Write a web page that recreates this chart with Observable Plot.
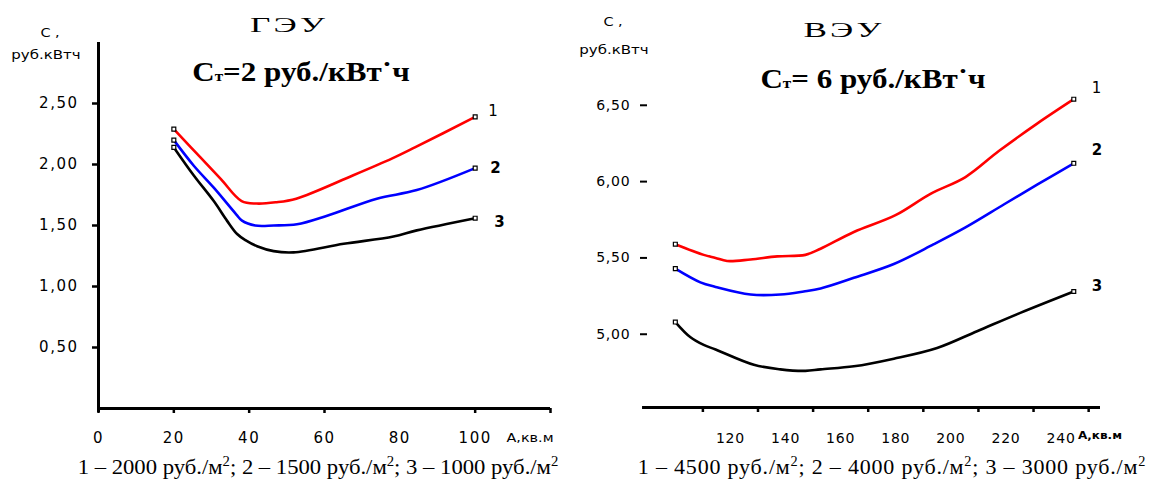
<!DOCTYPE html>
<html><head><meta charset="utf-8">
<script src="https://cdn.jsdelivr.net/npm/d3@7"></script>
<script src="https://cdn.jsdelivr.net/npm/@observablehq/plot@0.6"></script>
<style>
body{margin:0;background:#fff;}
#wrap{position:relative;width:1155px;height:483px;overflow:hidden;background:#fff;font-family:"DejaVu Sans",sans-serif;color:#000;}
#left,#right{position:absolute;top:0;}
#left{left:0;} #right{left:580px;}
.t{position:absolute;white-space:nowrap;line-height:1.25;}
</style></head><body><div id="wrap"><div id="left"></div><div id="right"></div></div>
<script>
// ---- ГЭУ (left) ----
const gSeries = ["1", "2", "3"];
const gX1 = [20, 27, 32.5, 38, 42, 47, 52.5, 67.5, 78, 84, 100];
const gY1 = [2.29, 2.06, 1.88, 1.70, 1.68, 1.69, 1.72, 1.91, 2.05, 2.14, 2.39];
const gX2 = [20, 25.3, 30.6, 36.6, 38.1, 41.6, 46.5, 52.7, 60.7, 73.9, 84.5, 100];
const gY2 = [2.20, 1.99, 1.81, 1.59, 1.54, 1.50, 1.50, 1.51, 1.58, 1.72, 1.79, 1.97];
const gX3 = [20, 25.3, 30.6, 34.1, 36.8, 39, 42.1, 46.5, 51.8, 65.1, 78.3, 84.5, 100];
const gY3 = [2.14, 1.91, 1.70, 1.54, 1.43, 1.38, 1.33, 1.29, 1.28, 1.35, 1.41, 1.46, 1.56];
const gYTicks = [0.5, 1.0, 1.5, 2.0, 2.5];
const gXTickLabels = [0, 20, 40, 60, 80, 100];
const gXTickMarks = [0, 20, 40, 60, 100, 120];

// ---- ВЭУ (right) ----
const vSeries = ["1", "2", "3"];
const vX1 = [100, 110.3, 114.6, 118.8, 127.3, 137, 147.2, 152.7, 164.8, 179.9, 192.6, 205.3, 217.4, 231.3, 244.6];
const vY1 = [5.59, 5.52, 5.50, 5.48, 5.49, 5.51, 5.52, 5.56, 5.67, 5.78, 5.92, 6.03, 6.20, 6.38, 6.54];
const vX2 = [100, 109.1, 114.6, 127.3, 138.1, 146.6, 152.7, 164.8, 179.3, 193.8, 205.3, 219.2, 231.3, 244.6];
const vY2 = [5.43, 5.34, 5.31, 5.26, 5.26, 5.28, 5.30, 5.37, 5.46, 5.59, 5.70, 5.85, 5.98, 6.12];
const vX3 = [100, 105.5, 110.3, 114.6, 128.5, 138.1, 147.2, 152.7, 164.8, 179.3, 195, 209.5, 225.2, 244.6];
const vY3 = [5.08, 4.98, 4.93, 4.90, 4.80, 4.77, 4.76, 4.77, 4.79, 4.84, 4.91, 5.02, 5.14, 5.28];
const vYTicks = [5.0, 5.5, 6.0, 6.5];
const vXTickLabels = [120, 140, 160, 180, 200, 220, 240];
const vXTickMarks = [110, 130, 150, 170, 190, 210, 230, 250];

const seriesColors = ["#ff0000", "#0000ff", "#000000"];

function tidy(xs, ys, s) { return xs.map((x, i) => ({x, y: ys[i], s})); }
const gData = [...tidy(gX1, gY1, gSeries[0]), ...tidy(gX2, gY2, gSeries[1]), ...tidy(gX3, gY3, gSeries[2])];
const vData = [...tidy(vX1, vY1, vSeries[0]), ...tidy(vX2, vY2, vSeries[1]), ...tidy(vX3, vY3, vSeries[2])];
const fmt = d => d.toFixed(2).replace(".", ",");

function curveMarks(data, series, labelDx, labelDy, labelWeights) {
  const marks = [
    Plot.line(data, {x: "x", y: "y", z: "s", stroke: "s", strokeWidth: 2.6, curve: "catmull-rom"}),
    Plot.dot(data, Plot.selectFirst({x: "x", y: "y", z: "s", symbol: "square", r: 2.2, stroke: "#000", fill: "#fff", strokeWidth: 1.2})),
    Plot.dot(data, Plot.selectLast({x: "x", y: "y", z: "s", symbol: "square", r: 2.2, stroke: "#000", fill: "#fff", strokeWidth: 1.2}))
  ];
  series.forEach((s, i) => {
    marks.push(Plot.text(data.filter(d => d.s === s), Plot.selectLast({
      x: "x", y: "y", text: "s", dx: labelDx[i], dy: labelDy[i], textAnchor: "start",
      fontSize: 15, fontWeight: labelWeights[i], fontFamily: "DejaVu Sans"
    })));
  });
  return marks;
}

const left = Plot.plot({
  width: 580, height: 483,
  marginLeft: 98, marginRight: 30, marginTop: 42, marginBottom: 75,
  x: {domain: [0, 120]},
  y: {domain: [0, 3]},
  color: {domain: gSeries, range: seriesColors},
  style: {fontFamily: "DejaVu Sans", fontSize: "15px", letterSpacing: "1.5px", background: "transparent", overflow: "visible"},
  marks: [
    Plot.axisY({ticks: gYTicks, tickFormat: fmt, tickSize: 6, tickPadding: 14, strokeWidth: 2.5, label: null}),
    Plot.axisX({ticks: gXTickMarks, tickFormat: () => "", tickSize: 5, strokeWidth: 2.5, label: null}),
    Plot.axisX({ticks: gXTickLabels, tickSize: 0, tickPadding: 24, label: null}),
    Plot.ruleY([0], {strokeWidth: 3}),
    Plot.ruleX([0], {strokeWidth: 3, insetBottom: -4}),
    ...curveMarks(gData, gSeries, [13, 15, 19], [-6, 0, 4], ["normal", "bold", "bold"])
  ]
});
document.getElementById("left").appendChild(left);

const right = Plot.plot({
  width: 575, height: 483,
  marginLeft: 67, marginRight: 55, marginTop: 59, marginBottom: 76,
  x: {domain: [89.9, 254.3]},
  y: {domain: [4.52, 6.8]},
  color: {domain: vSeries, range: seriesColors},
  style: {fontFamily: "DejaVu Sans", fontSize: "14px", letterSpacing: "0.8px", background: "transparent", overflow: "visible"},
  marks: [
    Plot.axisY({ticks: vYTicks, tickFormat: fmt, tickSize: 7, tickPadding: 10, strokeWidth: 2, label: null}),
    Plot.axisX({ticks: vXTickMarks, tickFormat: () => "", tickSize: 5, strokeWidth: 2.5, label: null}),
    Plot.axisX({ticks: vXTickLabels, tickSize: 0, tickPadding: 26, label: null}),
    Plot.ruleY([4.52], {x1: 88.1, x2: 254.3, strokeWidth: 3}),
    ...curveMarks(vData, vSeries, [18, 18, 18], [-11, -13, -5], ["normal", "bold", "bold"])
  ]
});
document.getElementById("right").appendChild(right);

// ---- texts ----
const wrap = document.getElementById("wrap");
function addText(html, cx, cy, css, sx) {
  const d = document.createElement("div");
  d.className = "t";
  d.innerHTML = html;
  d.style.left = cx + "px";
  d.style.top = cy + "px";
  Object.assign(d.style, css || {});
  d.style.transform = `translate(-50%,-50%) scaleX(${sx || 1})`;
  wrap.appendChild(d);
}
const unitCss = {fontFamily: "DejaVu Sans", fontSize: "12px"};
addText("С ,", 50, 33, unitCss, 1.2);
addText("руб.кВтч", 46, 55, unitCss, 1.25);
addText("С ,", 613, 22, unitCss, 1.2);
addText("руб.кВтч", 614, 50, unitCss, 1.25);

const systemCss = {fontFamily: "Liberation Serif", fontSize: "22px", letterSpacing: "2px"};
addText("ГЭУ", 289, 25, systemCss, 1.6);
addText("ВЭУ", 844, 30, systemCss, 1.6);

const tariffCss = {fontFamily: "Liberation Serif", fontSize: "27px", fontWeight: "bold"};
const sub = '<span style="font-size:0.55em">т</span>';
addText("С" + sub + "=2 руб./кВт˙ч", 301, 73, tariffCss, 1.15);
addText("С" + sub + "= 6 руб./кВт˙ч", 873, 80, tariffCss, 1.15);

const axisTitleCss = {fontFamily: "DejaVu Sans", fontSize: "12px"};
addText("А,кв.м", 530, 438, axisTitleCss, 1.2);
addText("А,кв.м", 1100, 436, {fontFamily: "DejaVu Sans", fontSize: "10px", fontWeight: "bold"}, 1.2);

const capCss = {fontFamily: "Liberation Serif", fontSize: "22px"};
const m2 = 'руб./м<sup style="font-size:0.65em;vertical-align:0.55em;line-height:0">2</sup>';
addText(`1 – 2000 ${m2}; 2 – 1500 ${m2}; 3 – 1000 ${m2}`, 318, 467, capCss, 1.03);
addText(`1 – 4500 ${m2}; 2 – 4000 ${m2}; 3 – 3000 ${m2}`, 892, 467, Object.assign({letterSpacing: "0.8px"}, capCss), 1.0);
</script>
</body></html>
